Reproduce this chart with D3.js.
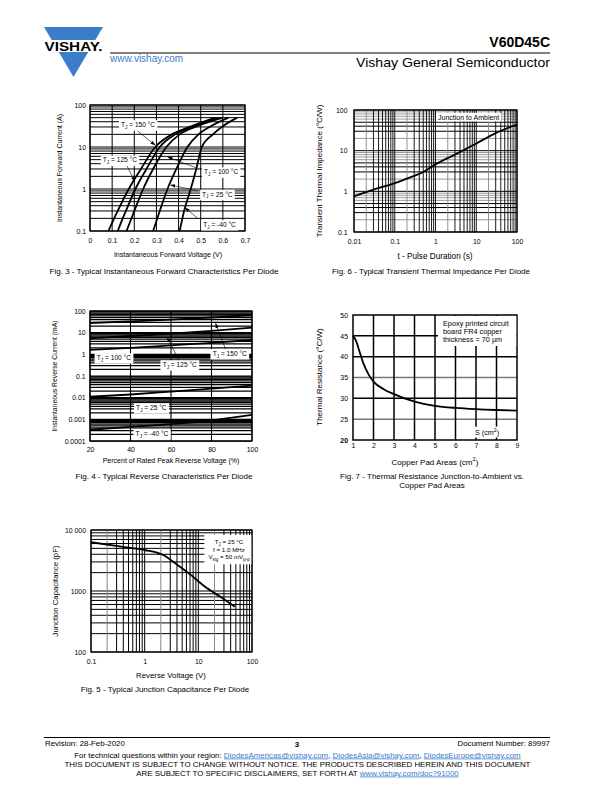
<!DOCTYPE html>
<html><head><meta charset="utf-8">
<script src="https://cdn.jsdelivr.net/npm/d3@7"></script>
<style>body{margin:0;background:#fff}svg{display:block}</style>
</head><body>
<script>
// ---------------- DATA ----------------
// Fig. 3 - forward characteristics (V vs I)
const fig3Current = [0.1, 0.3, 1, 3, 10, 20, 30, 50];
const fig3V150 = [0.083, 0.125, 0.175, 0.23, 0.295, 0.37, 0.45, 0.565];
const fig3V125 = [0.125, 0.162, 0.205, 0.255, 0.315, 0.385, 0.46, 0.58];
const fig3V100 = [0.165, 0.2, 0.24, 0.285, 0.345, 0.405, 0.475, 0.60];
const fig3V25  = [0.285, 0.315, 0.35, 0.39, 0.44, 0.49, 0.54, 0.625];
const fig3Vm40 = [0.405, 0.425, 0.455, 0.48, 0.505, 0.555, 0.595, 0.665];
const fig3XTicks = [0, 0.1, 0.2, 0.3, 0.4, 0.5, 0.6, 0.7];
const fig3XLabels = ["0", "0.1", "0.2", "0.3", "0.4", "0.5", "0.6", "0.7"];
const fig3YTicks = [0.1, 1, 10, 100];
const fig3YLabels = ["0.1", "1", "10", "100"];

// Fig. 6 - transient thermal impedance
const fig6Time = [0.01, 0.03, 0.05, 0.1, 0.3, 0.5, 1, 3, 10, 30, 100];
const fig6Z = [0.75, 1.1, 1.28, 1.6, 2.4, 3.0, 4.6, 8, 15, 27, 44];
const fig6XTicks = [0.01, 0.1, 1, 10, 100];
const fig6XLabels = ["0.01", "0.1", "1", "10", "100"];
const fig6YTicks = [0.1, 1, 10, 100];
const fig6YLabels = ["0.1", "1", "10", "100"];

// Fig. 4 - reverse characteristics
const fig4Percent = [20, 40, 60, 80, 100];
const fig4I150 = [28, 33, 40, 50, 65];
const fig4I125 = [5.5, 7, 9, 12, 17];
const fig4I100 = [1.6, 2.0, 2.6, 3.4, 4.6];
const fig4I25  = [0.011, 0.014, 0.019, 0.026, 0.036];
const fig4Im40 = [0.00033, 0.00045, 0.0006, 0.0009, 0.0016];
const fig4XTicks = [20, 40, 60, 80, 100];
const fig4YTicks = [0.0001, 0.001, 0.01, 0.1, 1, 10, 100];
const fig4YLabels = ["0.0001", "0.001", "0.01", "0.1", "1", "10", "100"];

// Fig. 7 - thermal resistance vs copper pad area
const fig7Area = [1, 1.15, 1.3, 1.5, 1.75, 2, 2.5, 3, 4, 5, 6, 7, 8, 9];
const fig7R = [45, 43.8, 41.5, 38.5, 35.8, 34, 32.2, 31, 29.2, 28.2, 27.7, 27.4, 27.2, 27.05];
const fig7XTicks = [1, 2, 3, 4, 5, 6, 7, 8, 9];
const fig7YTicks = [20, 25, 30, 35, 40, 45, 50];

// Fig. 5 - junction capacitance
const fig5V = [0.1, 0.37, 1, 2.4, 3.6, 6.4, 13, 27, 48];
const fig5C = [6300, 5350, 4700, 3750, 2900, 2000, 1200, 780, 550];
const fig5XTicks = [0.1, 1, 10, 100];
const fig5XLabels = ["0.1", "1", "10", "100"];
const fig5YTicks = [100, 1000, 10000];
const fig5YLabels = ["100", "1000", "10 000"];

// ---------------- SETUP ----------------
const FONT = '"Liberation Sans", Arial, Helvetica, sans-serif';
const blue = "#3b7dc8";
const TICK = 6.9, CAP = 8;
const svg = d3.select("body").append("svg").attr("width", 595).attr("height", 792)
  .style("font-family", FONT);
const defs = svg.append("defs");
defs.append("marker").attr("id", "arr").attr("viewBox", "0 0 8 6").attr("refX", 8).attr("refY", 3)
  .attr("markerWidth", 5).attr("markerHeight", 3.6).attr("markerUnits", "userSpaceOnUse")
  .attr("orient", "auto").append("path").attr("d", "M0,0L8,3L0,6Z").attr("fill", "#000");

function logLines(lo, hi) {
  const a = [];
  const e0 = Math.round(Math.log10(lo)), e1 = Math.round(Math.log10(hi));
  for (let e = e0; e < e1; e++) for (let m = 1; m < 10; m++) a.push({ v: m * Math.pow(10, e), m });
  a.push({ v: hi, m: 1 });
  return a;
}
function hLines(g, x, y, vals, color, w) {
  const [x0, x1] = x.range();
  g.selectAll(null).data(vals).enter().append("line")
    .attr("x1", x0).attr("x2", x1).attr("y1", d => y(d.v)).attr("y2", d => y(d.v))
    .attr("stroke", typeof color === "function" ? color : () => color).attr("stroke-width", w);
}
function vLines(g, x, y, vals, color, w) {
  const [y0, y1] = y.range();
  g.selectAll(null).data(vals).enter().append("line")
    .attr("y1", y0).attr("y2", y1).attr("x1", d => x(d.v)).attr("x2", d => x(d.v))
    .attr("stroke", typeof color === "function" ? color : () => color).attr("stroke-width", w);
}
function frame(g, x, y, w) {
  const [x0, x1] = x.range(), [y0, y1] = y.range();
  g.append("rect").attr("x", x0).attr("y", y1).attr("width", x1 - x0).attr("height", y0 - y1)
    .attr("fill", "none").attr("stroke", "#000").attr("stroke-width", w || 1.2);
}
function xAxis(g, x, y, ticks, labels, pad, size) {
  g.append("g").attr("transform", `translate(0,${y.range()[0]})`)
    .call(d3.axisBottom(x).tickValues(ticks).tickFormat((d, i) => labels[i]).tickSize(0).tickPadding(pad))
    .call(s => { s.select(".domain").remove();
      s.selectAll("text").attr("font-size", size).attr("font-family", FONT).attr("fill", "#000"); });
}
function yAxis(g, x, y, ticks, labels, pad, size) {
  g.append("g").attr("transform", `translate(${x.range()[0]},0)`)
    .call(d3.axisLeft(y).tickValues(ticks).tickFormat((d, i) => labels[i]).tickSize(0).tickPadding(pad))
    .call(s => { s.select(".domain").remove();
      s.selectAll("text").attr("font-size", size).attr("font-family", FONT).attr("fill", "#000"); });
}
function txt(g, x, y, s, size, anchor, extra) {
  const t = g.append("text").attr("x", x).attr("y", y).attr("font-size", size)
    .attr("text-anchor", anchor || "middle").attr("fill", "#000").text(s);
  if (extra) extra(t);
  return t;
}
function vtxt(g, x, y, s, size) {
  return g.append("text").attr("transform", `translate(${x},${y}) rotate(-90)`)
    .attr("font-size", size).attr("text-anchor", "middle").attr("fill", "#000").text(s);
}
// rich text: parts = [{t, sub|sup}]
function rich(g, x, y, parts, size, anchor) {
  const t = g.append("text").attr("x", x).attr("y", y).attr("font-size", size)
    .attr("text-anchor", anchor || "middle").attr("fill", "#000");
  let shifted = 0;
  parts.forEach(p => {
    const ts = t.append("tspan").text(p.t);
    if (p.sub) { ts.attr("font-size", size * 0.72).attr("dy", size * 0.28 - shifted); shifted = size * 0.28; }
    else if (p.sup) { ts.attr("font-size", size * 0.72).attr("dy", -size * 0.4 - shifted); shifted = -size * 0.4; }
    else if (shifted) { ts.attr("dy", -shifted); shifted = 0; }
  });
  return t;
}
function box(g, t, px, py) {
  const b = t.node().getBBox();
  g.insert("rect", () => t.node()).attr("x", b.x - px).attr("y", b.y - py)
    .attr("width", b.width + 2 * px).attr("height", b.height + 2 * py).attr("fill", "#fff");
}
function boxGroup(g, texts, padL, padT, padB, rightEdge) {
  let x0 = Infinity, y0 = Infinity, y1 = -Infinity;
  texts.forEach(t => { const b = t.node().getBBox(); x0 = Math.min(x0, b.x); y0 = Math.min(y0, b.y); y1 = Math.max(y1, b.y + b.height); });
  g.insert("rect", () => texts[0].node()).attr("x", x0 - padL).attr("y", y0 - padT)
    .attr("width", rightEdge - (x0 - padL)).attr("height", y1 - y0 + padT + padB).attr("fill", "#fff");
}
function arrow(g, x1, y1, x2, y2) {
  g.append("line").attr("x1", x1).attr("y1", y1).attr("x2", x2).attr("y2", y2)
    .attr("stroke", "#000").attr("stroke-width", 0.6).attr("marker-end", "url(#arr)");
}
function tj(val) { return [{ t: "T" }, { t: "J", sub: true }, { t: " = " + val + " °C" }]; }

// ---------------- HEADER ----------------
const hdr = svg.append("g");
hdr.append("path").attr("d", "M44,27 L103,27 L73.5,77 Z").attr("fill", blue);
hdr.append("rect").attr("x", 38).attr("y", 40).attr("width", 70).attr("height", 12).attr("fill", "#fff");
txt(hdr, 73.5, 51, "VISHAY.", 12, "middle", t => t.attr("font-weight", "bold")
  .attr("textLength", 58).attr("lengthAdjust", "spacingAndGlyphs"));
hdr.append("line").attr("x1", 110).attr("x2", 550).attr("y1", 53).attr("y2", 53)
  .attr("stroke", "#000").attr("stroke-width", 1);
txt(hdr, 550, 46.5, "V60D45C", 14, "end", t => t.attr("font-weight", "bold"));
txt(hdr, 110, 62, "www.vishay.com", 10, "start", t => t.attr("fill", blue));
txt(hdr, 550, 66.5, "Vishay General Semiconductor", 13.5, "end", t => t.attr("textLength", 194)
  .attr("lengthAdjust", "spacingAndGlyphs"));

// ---------------- FIG 3 ----------------
{
  const g = svg.append("g");
  const x = d3.scaleLinear().domain([0, 0.7]).range([90, 245]);
  const y = d3.scaleLog().domain([0.1, 100]).range([231, 105]);
  hLines(g, x, y, logLines(0.1, 100), "#000", 1);
  vLines(g, x, y, fig3XTicks.map(v => ({ v })), "#000", 1);
  frame(g, x, y, 1.2);
  const line = d3.line().x(d => x(d[0])).y(d => y(d[1])).curve(d3.curveMonotoneX);
  [fig3V150, fig3V125, fig3V100, fig3V25, fig3Vm40].forEach(arr => {
    g.append("path").attr("d", line(arr.map((v, i) => [v, fig3Current[i]])))
      .attr("fill", "none").attr("stroke", "#000").attr("stroke-width", 1.8);
  });
  const ann = [
    { v: "150", lx: 0.217, ly: 30, ax: 0.295, ay: 11 , from: [0.215, 24] },
    { v: "125", lx: 0.135, ly: 4.3, ax: 0.203, ay: 1.5, from: [0.165, 3.7] },
    { v: "100", lx: 0.592, ly: 2.25, ax: 0.35, ay: 5.8, from: [0.487, 3.1] },
    { v: "25", lx: 0.575, ly: 0.66, ax: 0.363, ay: 1.25, from: [0.487, 0.9] },
    { v: "-40", lx: 0.585, ly: 0.125, ax: 0.428, ay: 0.36, from: [0.487, 0.2] }
  ];
  ann.forEach(a => {
    arrow(g, x(a.from[0]), y(a.from[1]), x(a.ax), y(a.ay));
    const t = rich(g, x(a.lx), y(a.ly), tj(a.v), 6.6, "middle");
    box(g, t, 2, 0.8);
  });
  xAxis(g, x, y, fig3XTicks, fig3XLabels, 7.2, TICK);
  yAxis(g, x, y, fig3YTicks, fig3YLabels, 4, TICK);
  txt(g, 168, 256.5, "Instantaneous Forward Voltage (V)", 7);
  vtxt(g, 62, 168, "Instantaneous Forward Current (A)", 7);
  txt(g, 164, 273.5, "Fig. 3 - Typical Instantaneous Forward Characteristics Per Diode", CAP);
}

// ---------------- FIG 6 ----------------
{
  const g = svg.append("g");
  const x = d3.scaleLog().domain([0.01, 100]).range([354, 517]);
  const y = d3.scaleLog().domain([0.1, 100]).range([232, 110]);
  hLines(g, x, y, logLines(0.1, 100), d => (d.m === 1 || d.m === 3 || d.m === 4 || d.m === 5) ? "#000" : "#999", 1);
  vLines(g, x, y, logLines(0.01, 100), d => d.m === 2 ? "#888" : "#000", 0.9);
  frame(g, x, y, 1.2);
  const line = d3.line().x(d => x(d[0])).y(d => y(d[1])).curve(d3.curveMonotoneX);
  g.append("path").attr("d", line(fig6Time.map((t, i) => [t, fig6Z[i]])))
    .attr("fill", "none").attr("stroke", "#000").attr("stroke-width", 1.8);
  const t = txt(g, x(6.5), y(58) , "Junction to Ambient", 7, "middle");
  box(g, t, 2, 0.8);
  xAxis(g, x, y, fig6XTicks, fig6XLabels, 7, TICK);
  yAxis(g, x, y, fig6YTicks, fig6YLabels, 6.5, TICK);
  txt(g, 435, 259, "t - Pulse Duration (s)", 8.2);
  vtxt(g, 322, 171, "Transient Thermal Impedance (°C/W)", 8);
  txt(g, 431, 273.5, "Fig. 6 - Typical Transient Thermal Impedance Per Diode", CAP);
}

// ---------------- FIG 4 ----------------
{
  const g = svg.append("g");
  const x = d3.scaleLinear().domain([20, 100]).range([90, 252]);
  const y = d3.scaleLog().domain([0.0001, 100]).range([441, 311]);
  hLines(g, x, y, logLines(0.0001, 100), "#000", 1.25);
  vLines(g, x, y, fig4XTicks.map(v => ({ v })), "#000", 1.1);
  frame(g, x, y, 1.2);
  const line = d3.line().x(d => x(d[0])).y(d => y(d[1])).curve(d3.curveMonotoneX);
  [fig4I150, fig4I125, fig4I100, fig4I25, fig4Im40].forEach(arr => {
    g.append("path").attr("d", line(arr.map((v, i) => [fig4Percent[i], v])))
      .attr("fill", "none").attr("stroke", "#000").attr("stroke-width", 1.8);
  });
  arrow(g, x(64.5), y(0.42), x(58), y(6.3));
  arrow(g, x(87.5), y(1.25), x(82), y(27));
  const labs = [
    { v: "100", lx: 31.8, ly: 0.55 },
    { v: "125", lx: 64.3, ly: 0.26 },
    { v: "150", lx: 89, ly: 0.85 },
    { v: "25", lx: 50.3, ly: 0.0027 },
    { v: "-40", lx: 50.6, ly: 0.00017 }
  ];
  labs.forEach(a => {
    const t = rich(g, x(a.lx), y(a.ly), tj(a.v), 6.6, "middle");
    box(g, t, 2.2, 0.8);
  });
  xAxis(g, x, y, fig4XTicks, fig4XTicks.map(String), 6.4, TICK);
  yAxis(g, x, y, fig4YTicks, fig4YLabels, 4.3, TICK);
  txt(g, 171, 463, "Percent of Rated Peak Reverse Voltage (%)", 7);
  vtxt(g, 57, 376, "Instantaneous Reverse Current (mA)", 6.8);
  txt(g, 164, 479, "Fig. 4 - Typical Reverse Characteristics Per Diode", CAP);
}

// ---------------- FIG 7 ----------------
{
  const g = svg.append("g");
  const x = d3.scaleLinear().domain([1, 9]).range([353, 517]);
  const y = d3.scaleLinear().domain([20, 50]).range([440, 315]);
  hLines(g, x, y, fig7YTicks.slice(1, -1).map(v => ({ v })), d => (d.v === 25 || d.v === 35) ? "#777" : "#000", 1.5);
  vLines(g, x, y, fig7XTicks.slice(1, -1).map(v => ({ v })), "#000", 1.5);
  frame(g, x, y, 1.5);
  const a1 = txt(g, 443, 326, "Epoxy printed circuit", 7.3, "start");
  const a2 = txt(g, 443, 334, "board FR4 copper", 7.3, "start");
  const a3 = txt(g, 443, 342, "thickness = 70 µm", 7.3, "start");
  boxGroup(g, [a1, a2, a3], 5, 3, 2, x.range()[1] - 0.75);
  const s = rich(g, 487, 435, [{ t: "S (cm" }, { t: "2", sup: true }, { t: ")" }], 7.2, "middle");
  box(g, s, 2, 0.5);
  const line = d3.line().x(d => x(d[0])).y(d => y(d[1])).curve(d3.curveMonotoneX);
  g.append("path").attr("d", line(fig7Area.map((a, i) => [a, fig7R[i]])))
    .attr("fill", "none").attr("stroke", "#000").attr("stroke-width", 1.8);
  xAxis(g, x, y, fig7XTicks, fig7XTicks.map(String), 3.2, TICK);
  yAxis(g, x, y, fig7YTicks, fig7YTicks.map(String), 5, TICK);
  g.selectAll("text").filter(function () { return this.textContent === "20"; }).attr("font-weight", "bold");
  rich(g, 435, 464.5, [{ t: "Copper Pad Areas (cm" }, { t: "2", sup: true }, { t: ")" }], 8, "middle");
  vtxt(g, 322, 377, "Thermal Resistance (°C/W)", 8);
  txt(g, 432, 479, "Fig. 7 - Thermal Resistance Junction-to-Ambient vs.", CAP);
  txt(g, 432, 488, "Copper Pad Areas", CAP);
}

// ---------------- FIG 5 ----------------
{
  const g = svg.append("g");
  const x = d3.scaleLog().domain([0.1, 100]).range([91, 252]);
  const y = d3.scaleLog().domain([100, 10000]).range([652, 530]);
  hLines(g, x, y, logLines(100, 10000), "#000", 1);
  vLines(g, x, y, logLines(0.1, 100), d => d.m === 2 ? "#888" : "#000", 1);
  frame(g, x, y, 1.2);
  const cx = 229;
  const b1 = rich(g, cx, 544, tj("25"), 6.2, "middle");
  const b2 = txt(g, cx, 551.5, "f = 1.0 MHz", 6.2, "middle");
  const b3 = rich(g, cx, 559, [{ t: "V" }, { t: "sig", sub: true }, { t: " = 50 mV" }, { t: "p-p", sub: true }], 6.2, "middle");
  boxGroup(g, [b1, b2, b3], 4, 3, 2.5, x.range()[1] - 0.6);
  const line = d3.line().x(d => x(d[0])).y(d => y(d[1])).curve(d3.curveMonotoneX);
  g.append("path").attr("d", line(fig5V.map((v, i) => [v, fig5C[i]])))
    .attr("fill", "none").attr("stroke", "#000").attr("stroke-width", 1.8);
  xAxis(g, x, y, fig5XTicks, fig5XLabels, 7.1, TICK);
  yAxis(g, x, y, fig5YTicks, fig5YLabels, 5, TICK);
  txt(g, 171, 678, "Reverse Voltage (V)", 7.8);
  vtxt(g, 58, 591, "Junction Capacitance (pF)", 7.8);
  txt(g, 165, 692, "Fig. 5 - Typical Junction Capacitance Per Diode", CAP);
}

// ---------------- FOOTER ----------------
{
  const g = svg.append("g");
  const FS = 7.9;
  g.append("line").attr("x1", 44).attr("x2", 550).attr("y1", 737.5).attr("y2", 737.5)
    .attr("stroke", "#000").attr("stroke-width", 1);
  txt(g, 45, 746, "Revision: 28-Feb-2020", FS, "start");
  txt(g, 297, 746.5, "3", FS, "middle", t => t.attr("font-weight", "bold"));
  txt(g, 550, 746, "Document Number: 89997", FS, "end");
  const l2 = g.append("text").attr("x", 297.5).attr("y", 757.5).attr("font-size", FS)
    .attr("text-anchor", "middle").attr("fill", "#000");
  l2.append("tspan").text("For technical questions within your region: ");
  l2.append("tspan").attr("fill", blue).attr("text-decoration", "underline").text("DiodesAmericas@vishay.com");
  l2.append("tspan").text(", ");
  l2.append("tspan").attr("fill", blue).attr("text-decoration", "underline").text("DiodesAsia@vishay.com");
  l2.append("tspan").text(", ");
  l2.append("tspan").attr("fill", blue).attr("text-decoration", "underline").text("DiodesEurope@vishay.com");
  txt(g, 297.5, 767, "THIS DOCUMENT IS SUBJECT TO CHANGE WITHOUT NOTICE. THE PRODUCTS DESCRIBED HEREIN AND THIS DOCUMENT", FS, "middle");
  const l4 = g.append("text").attr("x", 297.5).attr("y", 775.5).attr("font-size", FS)
    .attr("text-anchor", "middle").attr("fill", "#000");
  l4.append("tspan").text("ARE SUBJECT TO SPECIFIC DISCLAIMERS, SET FORTH AT ");
  l4.append("tspan").attr("fill", blue).attr("text-decoration", "underline").text("www.vishay.com/doc?91000");
}
</script>
</body></html>
